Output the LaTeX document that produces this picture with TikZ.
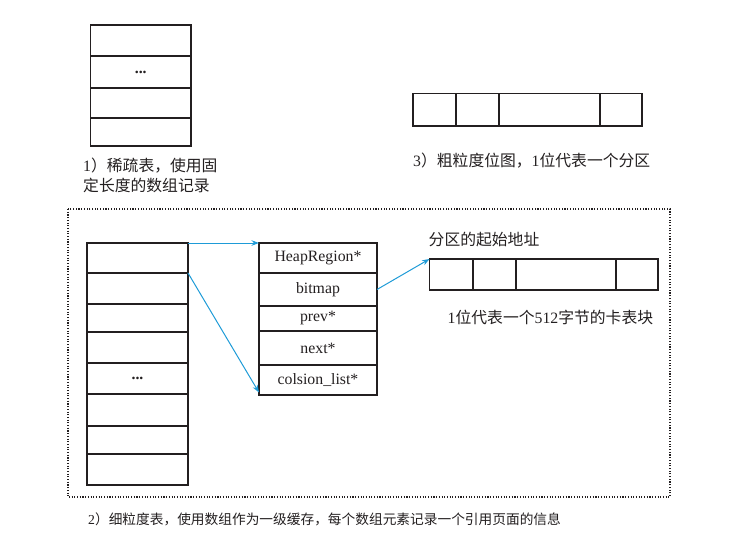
\documentclass[tikz,border=0pt]{standalone}
\usepackage{fontspec}
\setmainfont{Liberation Serif}
\newfontfamily\cjk{Noto Sans CJK SC}
\usetikzlibrary{arrows.meta}
\definecolor{ink}{RGB}{35,31,32}
\definecolor{arrowblue}{RGB}{30,155,215}
\tikzset{
  cell/.style={draw=ink, line width=1.3pt, rectangle, inner sep=0pt, outer sep=0pt, text=ink,
    font=\fontsize{15.8}{18}\selectfont},
  lbl/.style={text=ink, inner sep=0pt, font=\fontsize{15.8}{20}\selectfont},
  ptr/.style={draw=arrowblue, line width=1pt, -{Stealth[length=7.5pt,width=5.5pt]}},
  frame/.style={draw=ink, line width=1.2pt, dash pattern=on 1.1pt off 1.6pt}
}
\newcommand{\cellbox}[6]{% name, x1, y1, x2, y2, text
  \node[cell, minimum width={#4-#2}, minimum height={#5-#3}] (#1) at ({(#2+#4)/2},{(#3+#5)/2}) {#6};}
\begin{document}
\begin{tikzpicture}[x=1pt,y=-1pt]
\useasboundingbox (0,0) rectangle (743,541);
% 1) sparse table
\cellbox{A1}{90.5}{25}{191}{56}{}
\cellbox{A2}{90.5}{56}{191}{88}{\textbf{...}}
\cellbox{A3}{90.5}{88}{191}{118}{}
\cellbox{A4}{90.5}{118}{191}{146}{}
\node[lbl, anchor=west] (capA1) at (83,166) {1{\cjk ）稀疏表，使用固}};
\node[lbl, anchor=west] (capA2) at (83,185.5) {\cjk 定长度的数组记录};
% 3) coarse bitmap
\cellbox{C1}{413}{93.5}{456}{126}{}
\cellbox{C2}{456}{93.5}{499}{126}{}
\cellbox{C3}{499}{93.5}{600}{126}{}
\cellbox{C4}{600}{93.5}{642}{126}{}
\node[lbl, anchor=west] (capC) at (413,160.5) {3{\cjk ）粗粒度位图，}1{\cjk 位代表一个分区}};
% 2) fine-grained table frame
\draw[frame] (68,209) rectangle (670,497);
% left array
\cellbox{L1}{87}{243}{188}{273}{}
\cellbox{L2}{87}{273}{188}{304}{}
\cellbox{L3}{87}{304}{188}{332}{}
\cellbox{L4}{87}{332}{188}{363}{}
\cellbox{L5}{87}{363}{188}{394}{\textbf{...}}
\cellbox{L6}{87}{394}{188}{426}{}
\cellbox{L7}{87}{426}{188}{454}{}
\cellbox{L8}{87}{454}{188}{485}{}
% HeapRegion struct
\cellbox{S1}{259}{243}{377}{273}{HeapRegion*}
\cellbox{S2}{259}{273}{377}{306}{bitmap}
\cellbox{S3}{259}{306}{377}{331}{prev*}
\cellbox{S4}{259}{331}{377}{365}{next*}
\cellbox{S5}{259}{365}{377}{395}{colsion\_list*}
% fine bitmap
\cellbox{B1}{429.5}{259}{473}{290}{}
\cellbox{B2}{473}{259}{516}{290}{}
\cellbox{B3}{516}{259}{616}{290}{}
\cellbox{B4}{616}{259}{658}{290}{}
\node[lbl, anchor=west] (start) at (428.5,240) {\cjk 分区的起始地址};
\node[lbl, anchor=west] (card) at (447.5,317) {1{\cjk 位代表一个}512{\cjk 字节的卡表块}};
% pointers
\draw[ptr] (L1.north east) -- (S1.north west);
\draw[ptr] (L1.south east) -- ([yshift=2.5pt]S5.south west);
\draw[ptr] (S2.east) -- (B1.north west);
% caption 2
\node[lbl, anchor=west, font=\fontsize{13.7}{16}\selectfont] (capB) at (88,519.5) {2{\cjk ）细粒度表，使用数组作为一级缓存，每个数组元素记录一个引用页面的信息}};
\end{tikzpicture}
\end{document}
